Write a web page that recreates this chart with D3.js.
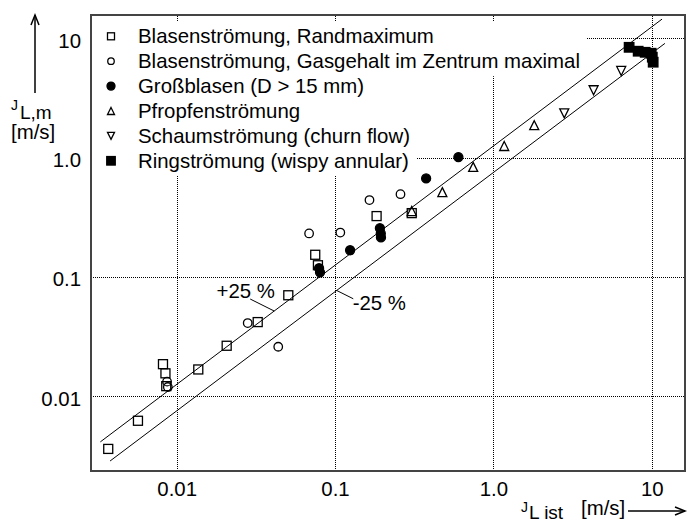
<!DOCTYPE html>
<html>
<head>
<meta charset="utf-8">
<script src="https://cdn.jsdelivr.net/npm/d3@7"></script>
<style>
  body { margin: 0; background: #fff; }
  text { font-family: "Liberation Sans", Arial, sans-serif; fill: #000; }
</style>
</head>
<body>
<div id="chart"></div>
<script>
// axis ticks (same on both axes)
var tickVals = [0.01, 0.1, 1, 10];
var tickLabels = ["0.01", "0.1", "1.0", "10"];
var xLimits = [0.00288, 16.2];
var yLimits = [0.00235, 15.7];

// legend
var seriesNames = [
  "Blasenströmung, Randmaximum",
  "Blasenströmung, Gasgehalt im Zentrum maximal",
  "Großblasen (D > 15 mm)",
  "Pfropfenströmung",
  "Schaumströmung (churn flow)",
  "Ringströmung (wispy annular)"
];
var seriesSymbols = ["sqOpen", "circOpen", "circFilled", "triUp", "triDown", "sqFilled"];

// data (J_L,ist , J_L,m) in m/s
var randX = [0.0037, 0.0057, 0.0082, 0.0085, 0.0086, 0.0137, 0.0207, 0.0325, 0.0507, 0.075, 0.078, 0.183, 0.305];
var randY = [0.0036, 0.0062, 0.0185, 0.0155, 0.0121, 0.0167, 0.0264, 0.0417, 0.070, 0.153, 0.125, 0.323, 0.342];
var gasX = [0.0087, 0.0088, 0.0281, 0.0438, 0.0686, 0.108, 0.165, 0.259];
var gasY = [0.0132, 0.0119, 0.0409, 0.0259, 0.231, 0.235, 0.440, 0.493];
var grossX = [0.0793, 0.0804, 0.1245, 0.192, 0.1945, 0.195, 0.376, 0.601];
var grossY = [0.118, 0.109, 0.167, 0.256, 0.231, 0.214, 0.668, 1.01];
var pfropfX = [0.305, 0.476, 0.745, 1.17, 1.81];
var pfropfY = [0.356, 0.513, 0.835, 1.25, 1.87];
var schaumX = [2.80, 4.29, 6.41];
var schaumY = [2.35, 3.67, 5.33];
var ringX = [7.19, 8.20, 9.08, 9.91, 10.07, 10.2];
var ringY = [8.41, 7.80, 7.64, 7.50, 6.95, 6.31];

// +25 % / -25 % deviation lines
var devFactors = [1.25, 0.75];
var devStart = [0.0033, 0.0038];
var devEnd = [11.6, 12.1];
var devLabels = ["+25 %", "-25 %"];
var devLabelAt = [0.0413, 0.1024];

var svgWidth = 692, svgHeight = 525;
var frame = { left: 91, right: 685, top: 15, bottom: 471 };

var svg = d3.select("#chart").append("svg")
  .attr("width", svgWidth)
  .attr("height", svgHeight);

var xScale = d3.scaleLog().domain(xLimits).range([frame.left, frame.right]);
var yScale = d3.scaleLog().domain(yLimits).range([frame.bottom, frame.top]);

// grid lines
var gridX = svg.append("g")
  .attr("transform", "translate(0," + frame.bottom + ")")
  .call(d3.axisBottom(xScale).tickValues(tickVals).tickFormat("").tickSize(-(frame.bottom - frame.top)));
var gridY = svg.append("g")
  .attr("transform", "translate(" + frame.left + ",0)")
  .call(d3.axisLeft(yScale).tickValues(tickVals).tickFormat("").tickSize(-(frame.right - frame.left)));
[gridX, gridY].forEach(function(g) {
  g.select(".domain").remove();
  g.selectAll("line")
    .attr("stroke", "#000")
    .attr("stroke-width", 1)
    .attr("stroke-dasharray", "1,1")
    .attr("shape-rendering", "crispEdges");
});

// tick labels
var xAxis = svg.append("g")
  .attr("transform", "translate(0," + frame.bottom + ")")
  .call(d3.axisBottom(xScale).tickValues(tickVals).tickFormat(function(d, i) { return tickLabels[i]; }).tickSize(0));
xAxis.selectAll("text").attr("y", 25).attr("dy", 0).style("font-size", "20.4px");

var yAxis = svg.append("g")
  .attr("transform", "translate(" + frame.left + ",0)")
  .call(d3.axisLeft(yScale).tickValues(tickVals).tickFormat(function(d, i) { return tickLabels[i]; }).tickSize(0));
yAxis.selectAll("text").attr("x", -10).attr("dy", 9).style("font-size", "20.4px");
[xAxis, yAxis].forEach(function(g) {
  g.select(".domain").remove();
  g.attr("font-family", null).attr("font-size", null);
});

// legend (white boxes hide the grid)
var legendG = svg.append("g");
var legendBg = legendG.append("g");
var legendText = legendG.append("g");
var rowBase = 43.3, rowStep = 24.9;
var ends = [];
seriesNames.forEach(function(name, i) {
  var t = legendText.append("text")
    .attr("x", 138)
    .attr("y", rowBase + i * rowStep)
    .style("font-size", "20.4px")
    .text(name);
  ends.push(138 + t.node().getComputedTextLength());
});
for (var p = 0; p < seriesNames.length; p += 2) {
  var right = Math.max(ends[p], ends[p + 1]) + 6;
  legendBg.append("rect")
    .attr("x", frame.left + 2)
    .attr("y", rowBase + p * rowStep - 22)
    .attr("width", right - frame.left - 2)
    .attr("height", rowStep + 30)
    .attr("fill", "#fff");
}

// deviation lines
var lineGen = d3.line().x(function(d) { return xScale(d[0]); }).y(function(d) { return yScale(d[1]); });
devFactors.forEach(function(f, i) {
  svg.append("path")
    .attr("d", lineGen([[devStart[i], devStart[i] * f], [devEnd[i], devEnd[i] * f]]))
    .attr("fill", "none")
    .attr("stroke", "#000")
    .attr("stroke-width", 1);
});

// labels on the deviation lines
var devLeader = [[-24, -12], [16.6, 8.3]];
var devTextPos = [[-57.6, -13.3], [16, 19.6]];
devFactors.forEach(function(f, i) {
  var ax = xScale(devLabelAt[i]), ay = yScale(devLabelAt[i] * f);
  svg.append("line")
    .attr("x1", ax).attr("y1", ay)
    .attr("x2", ax + devLeader[i][0]).attr("y2", ay + devLeader[i][1])
    .attr("stroke", "#000").attr("stroke-width", 1);
  svg.append("text")
    .attr("x", ax + devTextPos[i][0])
    .attr("y", ay + devTextPos[i][1])
    .style("font-size", "20.4px")
    .text(devLabels[i]);
});

// marker drawing
function drawMarker(g, type, cx, cy, s) {
  var h = s / 2;
  if (type === "sqOpen" || type === "sqFilled") {
    g.append("rect")
      .attr("x", cx - h).attr("y", cy - h)
      .attr("width", s).attr("height", s)
      .attr("fill", type === "sqFilled" ? "#000" : "none")
      .attr("stroke", "#000").attr("stroke-width", 1.3);
  } else if (type === "circOpen" || type === "circFilled") {
    g.append("circle")
      .attr("cx", cx).attr("cy", cy).attr("r", h)
      .attr("fill", type === "circFilled" ? "#000" : "none")
      .attr("stroke", "#000").attr("stroke-width", 1.3);
  } else {
    var dir = type === "triUp" ? 1 : -1;
    var pts = [[cx, cy - dir * h], [cx + h, cy + dir * h], [cx - h, cy + dir * h]];
    g.append("path")
      .attr("d", "M" + pts.join("L") + "Z")
      .attr("fill", "none")
      .attr("stroke", "#000").attr("stroke-width", 1.3);
  }
}

var seriesX = [randX, gasX, grossX, pfropfX, schaumX, ringX];
var seriesY = [randY, gasY, grossY, pfropfY, schaumY, ringY];
var plotSize = [9, 8.5, 9, 9, 9, 9.5];
var legendSize = [7, 6.5, 8, 7, 7, 8.5];

var points = svg.append("g");
seriesX.forEach(function(xs, s) {
  xs.forEach(function(xv, i) {
    drawMarker(points, seriesSymbols[s], xScale(xv), yScale(seriesY[s][i]), plotSize[s]);
  });
});

var legendMarks = legendG.append("g");
seriesSymbols.forEach(function(sym, i) {
  drawMarker(legendMarks, sym, 111, rowBase + i * rowStep - 7, legendSize[i]);
});

// frame
svg.append("rect")
  .attr("x", frame.left).attr("y", frame.top)
  .attr("width", frame.right - frame.left)
  .attr("height", frame.bottom - frame.top)
  .attr("fill", "none")
  .attr("stroke", "#444")
  .attr("stroke-width", 2);

// axis titles with arrows
var yTitle = svg.append("g");
yTitle.append("text").attr("x", 11).attr("y", 110).style("font-size", "14px").text("J");
yTitle.append("text").attr("x", 20).attr("y", 118.6).style("font-size", "19px").text("L,m");
yTitle.append("text").attr("x", 11).attr("y", 139).style("font-size", "20.4px").text("[m/s]");
yTitle.append("line").attr("x1", 35).attr("y1", 93).attr("x2", 35).attr("y2", 15)
  .attr("stroke", "#000").attr("stroke-width", 1.5);
yTitle.append("path").attr("d", "M31,25L35,15L39,25")
  .attr("fill", "none").attr("stroke", "#000").attr("stroke-width", 1.5);

var xTitle = svg.append("g");
xTitle.append("text").attr("x", 521).attr("y", 512).style("font-size", "14px").text("J");
xTitle.append("text").attr("x", 529).attr("y", 519).style("font-size", "19px").text("L ist");
xTitle.append("text").attr("x", 581).attr("y", 515).style("font-size", "20.4px").text("[m/s]");
xTitle.append("line").attr("x1", 628).attr("y1", 511).attr("x2", 685).attr("y2", 511)
  .attr("stroke", "#000").attr("stroke-width", 1.5);
xTitle.append("path").attr("d", "M675,507L685,511L675,515")
  .attr("fill", "none").attr("stroke", "#000").attr("stroke-width", 1.5);
</script>
</body>
</html>
